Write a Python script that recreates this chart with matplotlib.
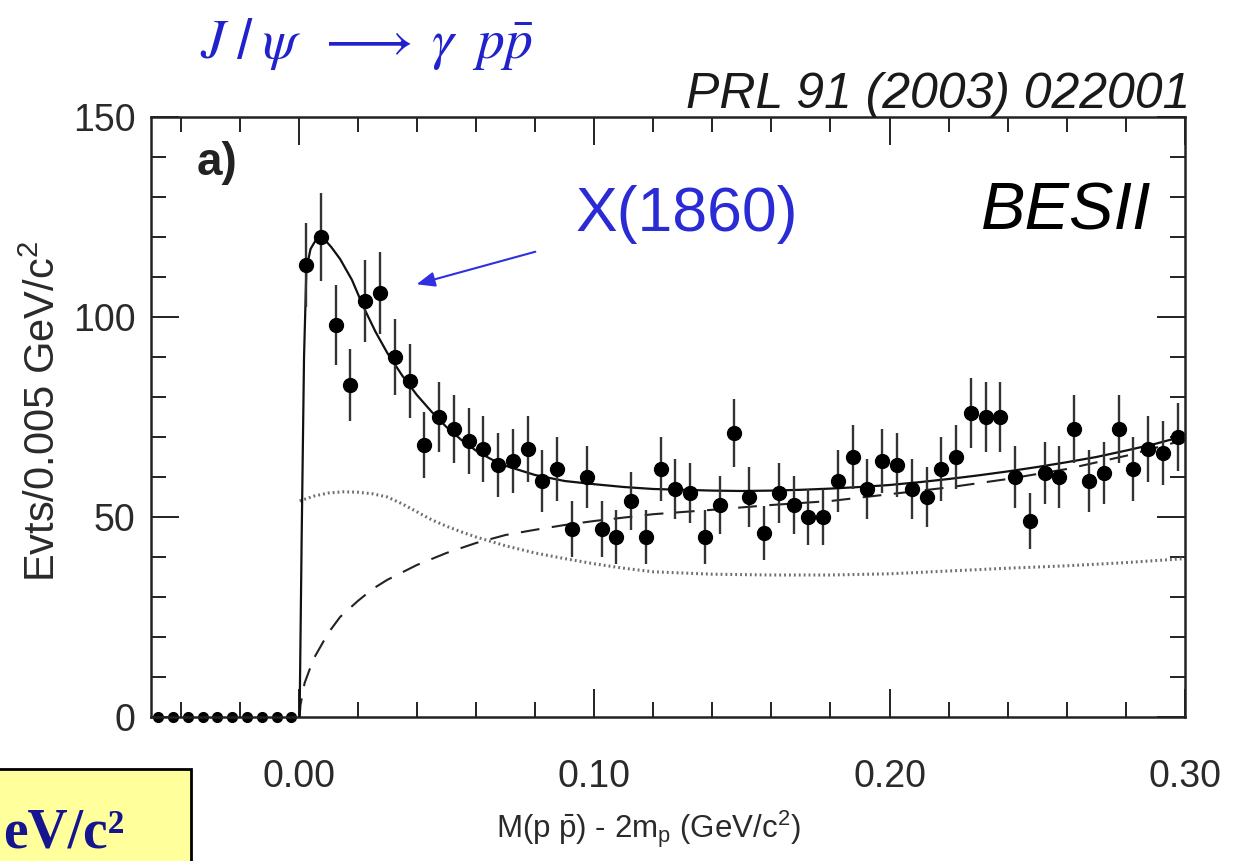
import numpy as np
import matplotlib
matplotlib.use("Agg")
import matplotlib.pyplot as plt
from matplotlib.ticker import MultipleLocator, FormatStrFormatter
from matplotlib.patches import Rectangle

plt.rcParams['font.family'] = ['Liberation Sans', 'DejaVu Sans']
plt.rcParams['mathtext.fontset'] = 'custom'
plt.rcParams['mathtext.rm'] = 'Liberation Sans'
plt.rcParams['mathtext.it'] = 'Liberation Sans:italic'
plt.rcParams['mathtext.bf'] = 'Liberation Sans:bold'
plt.rcParams['mathtext.default'] = 'regular'

# histogram: 0.005 GeV bins, below threshold everything is empty
bin_width = 0.005
first_below = -0.0475
first_above = 0.0025
counts_below = [0, 0, 0, 0, 0, 0, 0, 0, 0, 0]
counts = [113, 120, 98, 83, 104, 106, 90, 84, 68, 75,
          72, 69, 67, 63, 64, 67, 59, 62, 47, 60,
          47, 45, 54, 45, 62, 57, 56, 45, 53, 71,
          55, 46, 56, 53, 50, 50, 59, 65, 57, 64,
          63, 57, 55, 62, 65, 76, 75, 75, 60, 49,
          61, 60, 72, 59, 61, 72, 62, 67, 66, 70]
errs = [10.6, 11.0, 9.9, 9.1, 10.2, 10.3, 9.5, 9.2, 8.2, 8.7,
        8.5, 8.3, 8.2, 7.9, 8.0, 8.2, 7.7, 7.9, 6.9, 7.7,
        6.9, 6.7, 7.3, 6.7, 7.9, 7.5, 7.5, 6.7, 7.3, 8.4,
        7.4, 6.8, 7.5, 7.3, 7.1, 7.1, 7.7, 8.1, 7.5, 8.0,
        7.9, 7.5, 7.4, 7.9, 8.1, 8.7, 8.7, 8.7, 7.7, 7.0,
        7.8, 7.7, 8.5, 7.7, 7.8, 8.5, 7.9, 8.2, 8.1, 8.4]

# total fit (solid)
fit_x = [0.0003, 0.001, 0.0018, 0.0026, 0.004, 0.006, 0.008, 0.011, 0.014, 0.018,
         0.022, 0.026, 0.030, 0.035, 0.040, 0.045, 0.050, 0.055, 0.060, 0.065,
         0.070, 0.080, 0.090, 0.100, 0.110, 0.120, 0.130, 0.140, 0.150, 0.160,
         0.170, 0.180, 0.190, 0.200, 0.210, 0.220, 0.230, 0.240, 0.250, 0.260,
         0.270, 0.280, 0.290, 0.300]
fit_y = [0, 45, 90, 112, 117, 119.5, 120, 117.5, 114.5, 109.3,
         102.4, 96.3, 91, 85.4, 80.5, 76.3, 72.5, 69.3, 66.6, 64.5,
         62.8, 60.5, 59, 58.2, 57.5, 57, 56.8, 56.6, 56.5, 56.6,
         56.8, 57.1, 57.5, 58, 58.7, 59.5, 60.4, 61.4, 62.5, 63.7,
         65, 66.6, 68.3, 70.3]

# dashed curve
dash_x = [0.0003, 0.0006, 0.002, 0.005, 0.010, 0.014, 0.020, 0.025, 0.030, 0.040,
          0.050, 0.060, 0.070, 0.080, 0.090, 0.100, 0.120, 0.140, 0.160, 0.180,
          0.200, 0.220, 0.240, 0.260, 0.280, 0.300]
dash_y = [0, 3, 8.5, 14.5, 21, 25, 29, 32, 34.3, 38,
          41, 43.5, 45.5, 46.8, 48, 49, 50.7, 51.8, 53, 54,
          55.7, 57.4, 59.5, 62, 65.3, 69.3]

# dotted curve
dot_x = [0.0003, 0.005, 0.010, 0.015, 0.020, 0.025, 0.030, 0.035, 0.040, 0.045,
         0.050, 0.055, 0.060, 0.070, 0.080, 0.090, 0.100, 0.110, 0.120, 0.140,
         0.160, 0.180, 0.200, 0.220, 0.240, 0.260, 0.280, 0.300]
dot_y = [54, 55.2, 56, 56.3, 56.2, 55.8, 55, 53.3, 51.3, 49.3,
         47.7, 46.3, 45, 42.8, 41, 39.6, 38.3, 37.2, 36.3, 35.7,
         35.5, 35.5, 35.8, 36.5, 37.2, 37.8, 38.6, 39.6]

x_below = first_below + bin_width * np.arange(len(counts_below))
x_above = first_above + bin_width * np.arange(len(counts))

fig = plt.figure(figsize=(12.42, 8.61), dpi=100)
ax = fig.add_axes([151 / 1242, 144 / 861, 1034 / 1242, 600 / 861])

ax.plot(dot_x, dot_y, color='#6e6e6e', lw=2.2, linestyle=(0, (0.6, 1.0)))
ax.plot(dash_x, dash_y, color='#222222', lw=1.5, linestyle=(0, (9, 6)))
ax.plot(fit_x, fit_y, color='#111111', lw=1.6)

ax.errorbar(x_above, counts, yerr=errs, fmt='o', color='black', ms=10,
            ecolor='#333333', elinewidth=1.7, capsize=0)
ax.plot(x_below, counts_below, 'o', color='black', ms=7, clip_on=False)

ax.set_xlim(-0.05, 0.30)
ax.set_ylim(0, 150)
ax.xaxis.set_major_locator(MultipleLocator(0.1))
ax.xaxis.set_minor_locator(MultipleLocator(0.02))
ax.xaxis.set_major_formatter(FormatStrFormatter('%.2f'))
ax.yaxis.set_major_locator(MultipleLocator(50))
ax.yaxis.set_minor_locator(MultipleLocator(10))
ax.tick_params(which='both', direction='in', top=True, right=True,
               width=1.4, colors='#222222', labelsize=27, labelcolor='#2a2a2a')
ax.tick_params(which='major', length=20)
ax.tick_params(which='minor', length=11)
ax.tick_params(axis='x', pad=30)
ax.tick_params(axis='y', pad=11)
for s in ax.spines.values():
    s.set_linewidth(1.8)
    s.set_color('#222222')

fig.text(648 / 1242, 1 - 838 / 861, r'M(p $\bar{p}$) - 2m$_p$ (GeV/c$^2$)',
         fontsize=22.5, color='#2a2a2a', ha='center', va='baseline')
fig.text(44 / 1242, 1 - 411 / 861, r'Evts/0.005 GeV/c$^2$', fontsize=30,
         color='#2a2a2a', rotation=90, ha='center', va='center')

ax.text(-0.0345, 138.5, 'a)', fontsize=33, fontweight='bold', color='#222222',
        ha='left', va='center')
ax.text(0.0936, 125.5, 'X(1860)', fontsize=45, color='#2b2bd6', ha='left', va='center')
ax.text(0.2885, 126, 'BESII', fontsize=48, style='italic', color='black',
        ha='right', va='center')
ax.annotate('', xy=(0.039, 108), xytext=(0.081, 116.5),
            arrowprops=dict(arrowstyle='-|>,head_length=1.1,head_width=0.45',
                            color='#3030e0', lw=1.5))

fig.text(1190 / 1242, 1 - 108 / 861, 'PRL 91 (2003) 022001', fontsize=36,
         style='italic', color='#1a1a1a', ha='right', va='baseline')
fig.text(200 / 1242, 1 - 58 / 861,
         r'$\mathit{J}\;/\;\mathit{\psi}\;\;\longrightarrow\;\mathit{\gamma}\;\;\mathit{p\bar{p}}$',
         fontsize=40, color='#2222cc', ha='left', va='baseline', math_fontfamily='stix')

# yellow box cut at the lower left corner
box = Rectangle((-0.02, -0.02), (191 + 25) / 1242, 0.02 + 1 - 769 / 861,
                transform=fig.transFigure, facecolor='#ffff9c', edgecolor='black',
                lw=2, clip_on=False)
fig.patches.append(box)
fig.text(3 / 1242, 1 - 847 / 861, 'eV/c²', fontsize=40, fontweight='bold',
         family='Liberation Serif', color='#151590', ha='left', va='baseline')

fig.savefig('out.png', dpi=100)
